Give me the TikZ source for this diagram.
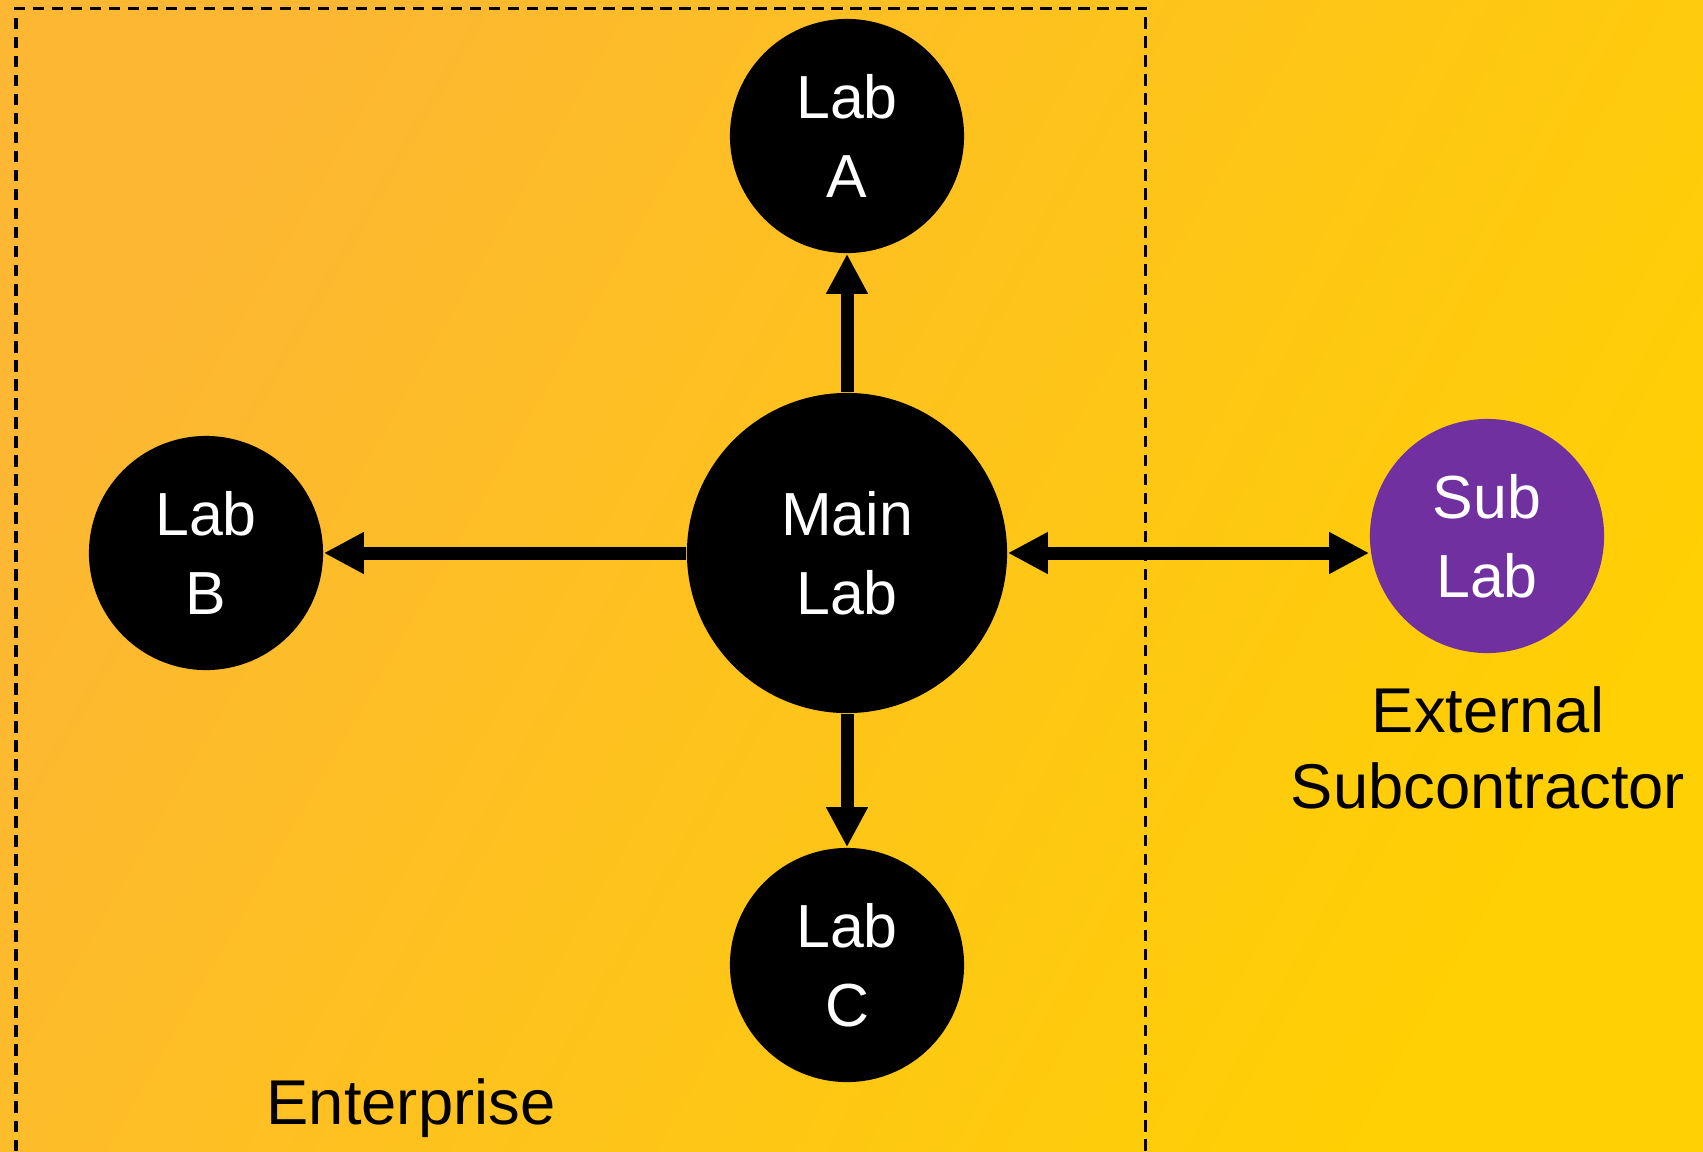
\documentclass[tikz,border=0pt]{standalone}
\usepackage{fontspec}
\setmainfont{Liberation Sans}
\usetikzlibrary{arrows.meta}
\definecolor{bgorange}{HTML}{FDB733}
\definecolor{bgyellow}{HTML}{FFD003}
\definecolor{subpurple}{HTML}{7030A0}
\tikzset{
  labnode/.style={circle, fill=black, text=white, minimum size=2.34cm, inner sep=0pt,
    align=center, font=\fontsize{17.3}{22.4}\selectfont},
  mainnode/.style={labnode, minimum size=3.2cm},
  subnode/.style={labnode, fill=subpurple},
  caption/.style={align=center, font=\fontsize{18}{21.6}\selectfont},
  flowarrow/.style={line width=0.13cm, -{Triangle[length=0.4cm,width=0.39cm]}},
  bothways/.style={line width=0.13cm, {Triangle[length=0.4cm,width=0.39cm]}-{Triangle[length=0.4cm,width=0.39cm]}},
  boundary/.style={line width=0.03cm, dash pattern=on 0.115cm off 0.075cm}
}

\begin{document}
\begin{tikzpicture}[x=0.01cm,y=-0.01cm]
\useasboundingbox (0,0) rectangle (1703,1151);
\shade[top color=bgorange, bottom color=bgyellow, shading angle=60] (0,0) rectangle (1703,1151);

\draw[boundary] (16,1151) -- (16,8) -- (1145,8) -- (1145,1151);

\node[mainnode] (mainlab) at (847,553) {Main\\Lab};
\node[labnode] (laba) at (847,136) {Lab\\A};
\node[labnode] (labb) at (206,553) {Lab\\B};
\node[labnode] (labc) at (847,965) {Lab\\C};
\node[subnode] (sublab) at (1487,536) {Sub\\Lab};

\node[caption] (external) at (1488,748) {External\\Subcontractor};
\node[caption] (enterprise) at (411,1108) {Enterprise};

\draw[flowarrow] (mainlab.north) -- (laba.south);
\draw[flowarrow] (mainlab.west) -- (mainlab.west -| labb.east);
\draw[flowarrow] (mainlab.south) -- (labc.north);
\draw[bothways] (mainlab.east) -- (mainlab.east -| sublab.west);

\end{tikzpicture}
\end{document}
